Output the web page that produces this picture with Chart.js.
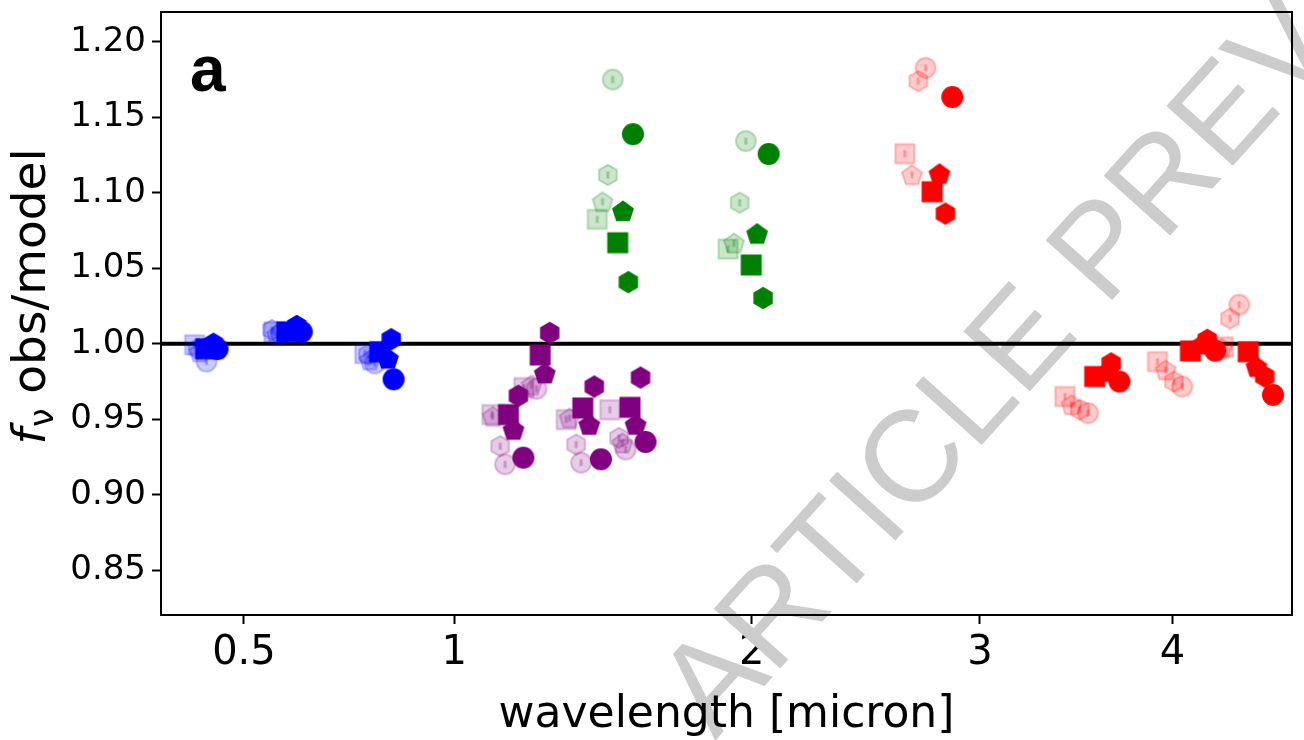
<!DOCTYPE html>
<html>
<head>
<meta charset="utf-8">
<script src="https://cdn.jsdelivr.net/npm/chart.js@4.4.1/dist/chart.umd.min.js"></script>
<style>
  body { margin: 0; background: #fff; }
  #wrap { width: 1304px; height: 740px; }
</style>
</head>
<body>
<div id="wrap"><canvas id="ratioChart" width="1304" height="740"></canvas></div>
<script>
// flux ratio obs/model per filter, one set of arrays per instrument colour
// marker codes: o circle, s square, p pentagon, h hexagon
// "pale" arrays are the faded comparison points drawn behind

const blueLam  = [0.4273, 0.4378, 0.4418, 0.4493, 0.5880, 0.6030, 0.6094, 0.6202, 0.8031, 0.8238, 0.8321, 0.8381];
const blueFit  = [0.9967, 0.9988, 1.0000, 0.9965, 1.0079, 1.0090, 1.0118, 1.0079, 0.9947, 0.9903, 1.0030, 0.9765];
const blueMark = ['s', 'p', 'h', 'o', 's', 'p', 'h', 'o', 's', 'p', 'h', 'o'];
const bluePaleLam  = [0.4077, 0.4166, 0.4129, 0.4290, 0.5608, 0.5671, 0.5567, 0.5754, 0.7664, 0.7786, 0.7744, 0.7908];
const bluePaleFit  = [0.9993, 0.9947, 0.9967, 0.9882, 1.0079, 1.0060, 1.0092, 1.0066, 0.9936, 0.9893, 0.9928, 0.9870];
const bluePaleMark = ['s', 'p', 'h', 'o', 's', 'p', 'h', 'o', 's', 'p', 'h', 'o'];

const purpleLam  = [1.1567, 1.1716, 1.1866, 1.2017, 1.2536, 1.2679, 1.2834, 1.3899, 1.4114, 1.4280, 1.4501, 1.5491, 1.5688, 1.5861, 1.6035];
const purpleFit  = [0.9531, 0.9432, 0.9656, 0.9246, 0.9926, 0.9805, 1.0072, 0.9575, 0.9465, 0.9717, 0.9235, 0.9579, 0.9465, 0.9776, 0.9350];
const purpleMark = ['s', 'p', 'h', 'o', 's', 'p', 'h', 's', 'p', 'h', 'o', 's', 'p', 'h', 'o'];
const purplePaleLam  = [1.1076, 1.1100, 1.1318, 1.1466, 1.2034, 1.2268, 1.2421, 1.3361, 1.3467, 1.3682, 1.3844, 1.4801, 1.5231, 1.5115, 1.5343];
const purplePaleFit  = [0.9531, 0.9520, 0.9322, 0.9202, 0.9710, 0.9728, 0.9702, 0.9498, 0.9509, 0.9333, 0.9213, 0.9563, 0.9344, 0.9377, 0.9300];
const purplePaleMark = ['s', 'p', 'h', 'o', 's', 'p', 'o', 's', 'p', 'h', 'o', 's', 'p', 'h', 'o'];

const greenLam  = [1.5070, 1.5250, 1.5436, 1.5595, 1.9980, 2.0215, 2.0450, 2.0673];
const greenFit  = [1.0669, 1.0880, 1.0408, 1.1388, 1.0522, 1.0730, 1.0303, 1.1257];
const greenMark = ['s', 'p', 'h', 'o', 's', 'p', 'h', 'o'];
const greenPaleLam  = [1.4378, 1.4557, 1.4735, 1.4900, 1.9078, 1.9307, 1.9527, 1.9770];
const greenPaleFit  = [1.0824, 1.0941, 1.1118, 1.1750, 1.0627, 1.0667, 1.0934, 1.1342];
const greenPaleMark = ['s', 'p', 'h', 'o', 's', 'p', 'h', 'o'];

const redLam  = [2.7736, 2.8077, 2.8356, 2.8680, 3.5786, 3.6488, 3.6661, 3.7102, 4.1011, 4.1685, 4.1967, 4.2420, 4.4334, 4.4822, 4.5309, 4.5797];
const redFit  = [1.1007, 1.1127, 1.0862, 1.1634, 0.9783, 0.9816, 0.9870, 0.9750, 0.9953, 0.9997, 1.0026, 0.9954, 0.9947, 0.9849, 0.9783, 0.9662];
const redMark = ['s', 'p', 'h', 'o', 's', 'p', 'h', 'o', 's', 'p', 'h', 'o', 's', 'p', 'h', 'o'];
const redPaleLam  = [2.6482, 2.6810, 2.7097, 2.7434, 3.4236, 3.4580, 3.5007, 3.5442, 3.9172, 3.9625, 4.0084, 4.0550, 4.2875, 4.2800, 4.3276, 4.3811];
const redPaleFit  = [1.1259, 1.1120, 1.1739, 1.1827, 0.9651, 0.9597, 0.9564, 0.9541, 0.9882, 0.9827, 0.9750, 0.9717, 0.9980, 0.9970, 1.0167, 1.0259];
const redPaleMark = ['s', 'p', 'h', 'o', 's', 'p', 'h', 'o', 's', 'p', 'h', 'o', 's', 'p', 'h', 'o'];

const xTicks = [0.5, 1, 2, 3, 4];
const yTicks = [0.85, 0.90, 0.95, 1.00, 1.05, 1.10, 1.15, 1.20];
const xMin = 0.350, xMax = 4.694;
const yMin = 0.8204, yMax = 1.2197;

const rgb = { blue: '0,0,255', purple: '128,0,128', green: '0,128,0', red: '255,0,0' };

// x axis is linear in sqrt(wavelength)
class SqrtScale extends Chart.LinearScale {
  static id = 'sqrt';
  static defaults = {};
  getPixelForValue(value) {
    const lo = Math.sqrt(this.min), hi = Math.sqrt(this.max);
    return this.getPixelForDecimal((Math.sqrt(value) - lo) / (hi - lo));
  }
  getValueForPixel(pixel) {
    const lo = Math.sqrt(this.min), hi = Math.sqrt(this.max);
    const s = lo + this.getDecimalForPixel(pixel) * (hi - lo);
    return s * s;
  }
}
Chart.register(SqrtScale);

function shapePath(ctx, code, inset) {
  ctx.beginPath();
  if (code === 'o') {
    ctx.arc(0, 0, 11 - inset, 0, Math.PI * 2);
  } else if (code === 's') {
    const h = 10.5 - inset;
    ctx.rect(-h, -h, 2 * h, 2 * h);
  } else {
    const n = code === 'p' ? 5 : 6;
    const r = (code === 'p' ? 11.5 : 11.2) - inset;
    for (let i = 0; i < n; i++) {
      const a = -Math.PI / 2 + i * 2 * Math.PI / n;
      const px = r * Math.cos(a), py = r * Math.sin(a) + (n === 5 ? 1 : 0);
      if (i === 0) ctx.moveTo(px, py); else ctx.lineTo(px, py);
    }
    ctx.closePath();
  }
}

const markerCache = {};
function marker(colour, code, pale) {
  const key = colour + code + pale;
  if (markerCache[key]) return markerCache[key];
  const c = document.createElement('canvas');
  c.width = 30; c.height = 30;
  const ctx = c.getContext('2d');
  ctx.translate(15, 15);
  if (pale) {
    shapePath(ctx, code, 1);
    ctx.fillStyle = 'rgba(' + rgb[colour] + ',0.2)';
    ctx.fill();
    ctx.lineWidth = 2;
    ctx.strokeStyle = 'rgba(' + rgb[colour] + ',0.25)';
    ctx.stroke();
    ctx.fillStyle = 'rgba(' + rgb[colour] + ',0.3)';
    ctx.fillRect(-1.5, -3.5, 3, 7);
  } else {
    shapePath(ctx, code, 0);
    ctx.fillStyle = 'rgb(' + rgb[colour] + ')';
    ctx.fill();
  }
  markerCache[key] = c;
  return c;
}

function points(lam, fit) {
  return lam.map((x, i) => ({ x: x, y: fit[i] }));
}

function series(colour, lam, fit, marks, pale) {
  return {
    type: 'scatter',
    label: colour + (pale ? ' pale' : ''),
    data: points(lam, fit),
    pointStyle: marks.map(m => marker(colour, m, pale)),
    pointRadius: 11,
    pointHoverRadius: 11
  };
}

// first dataset ends up on top, so solid points go first and the unity line last
const datasets = [
  series('blue', blueLam, blueFit, blueMark, false),
  series('purple', purpleLam, purpleFit, purpleMark, false),
  series('green', greenLam, greenFit, greenMark, false),
  series('red', redLam, redFit, redMark, false),
  series('blue', bluePaleLam, bluePaleFit, bluePaleMark, true),
  series('purple', purplePaleLam, purplePaleFit, purplePaleMark, true),
  series('green', greenPaleLam, greenPaleFit, greenPaleMark, true),
  series('red', redPaleLam, redPaleFit, redPaleMark, true),
  {
    type: 'line',
    label: 'unity',
    data: [{ x: xMin, y: 1 }, { x: xMax, y: 1 }],
    borderColor: '#000',
    borderWidth: 4,
    pointRadius: 0
  }
];

const decorations = {
  id: 'decorations',
  beforeDatasetsDraw(chart) {
    // preview watermark sits under the data
    const ctx = chart.ctx;
    ctx.save();
    ctx.translate(715, 741);
    ctx.rotate(-48 * Math.PI / 180);
    ctx.font = '130px "Liberation Sans", Arial, sans-serif';
    ctx.fillStyle = 'rgb(204,204,204)';
    ctx.textBaseline = 'alphabetic';
    ctx.fillText('ARTICLE PREVIEW', 0, 0);
    ctx.restore();
  },
  afterDraw(chart) {
    const ctx = chart.ctx;
    const a = chart.chartArea;
    ctx.save();
    ctx.lineWidth = 2;
    ctx.strokeStyle = '#000';
    ctx.strokeRect(a.left, a.top, a.right - a.left, a.bottom - a.top);

    ctx.fillStyle = '#000';
    ctx.font = 'bold 64px "Liberation Sans", Arial, sans-serif';
    ctx.textAlign = 'left';
    ctx.textBaseline = 'alphabetic';
    ctx.fillText('a', 190, 91);

    // x axis title
    ctx.font = '44px "DejaVu Sans"';
    ctx.textAlign = 'center';
    ctx.fillText('wavelength [micron]', (a.left + a.right) / 2, 727);

    // y axis title: italic f with nu subscript
    ctx.translate(45, 297);
    ctx.rotate(-Math.PI / 2);
    ctx.textAlign = 'left';
    const fFont = 'italic 47px "DejaVu Sans"';
    const nuFont = '33px "DejaVu Sans"';
    const restFont = '47px "DejaVu Sans"';
    ctx.font = fFont; const wf = ctx.measureText('f').width;
    ctx.font = nuFont; const wn = ctx.measureText('\u03bd').width;
    ctx.font = restFont; const wr = ctx.measureText(' obs/model').width;
    let x0 = -(wf + wn + wr) / 2;
    ctx.font = fFont; ctx.fillText('f', x0, 0);
    x0 += wf + 1;
    ctx.font = nuFont; ctx.fillText('\u03bd', x0, 8);
    x0 += wn;
    ctx.font = restFont; ctx.fillText(' obs/model', x0, 0);
    ctx.restore();
  }
};

new Chart(document.getElementById('ratioChart'), {
  data: { datasets: datasets },
  options: {
    responsive: false,
    animation: false,
    events: [],
    layout: { padding: { left: 0, right: 1.5, top: 4, bottom: 0 } },
    plugins: { legend: { display: false }, tooltip: { enabled: false } },
    scales: {
      x: {
        type: 'sqrt',
        min: xMin,
        max: xMax,
        afterBuildTicks: s => { s.ticks = xTicks.map(v => ({ value: v })); },
        afterFit: s => { s.height = 125; s.paddingLeft = 0; s.paddingRight = 0; },
        grid: { drawOnChartArea: false, drawTicks: true, tickLength: 9, tickWidth: 2, tickColor: '#000' },
        border: { display: false },
        ticks: {
          color: '#000',
          padding: 6,
          maxRotation: 0,
          autoSkip: false,
          font: { family: 'DejaVu Sans', size: 40 },
          callback: v => String(v)
        }
      },
      y: {
        type: 'linear',
        min: yMin,
        max: yMax,
        afterBuildTicks: s => { s.ticks = yTicks.map(v => ({ value: v })); },
        afterFit: s => { s.width = 161; s.paddingTop = 0; s.paddingBottom = 0; },
        grid: { drawOnChartArea: false, drawTicks: true, tickLength: 9, tickWidth: 2, tickColor: '#000' },
        border: { display: false },
        ticks: {
          color: '#000',
          padding: 6,
          autoSkip: false,
          font: { family: 'DejaVu Sans', size: 34 },
          callback: v => v.toFixed(2)
        }
      }
    }
  },
  plugins: [decorations]
});
</script>
</body>
</html>
